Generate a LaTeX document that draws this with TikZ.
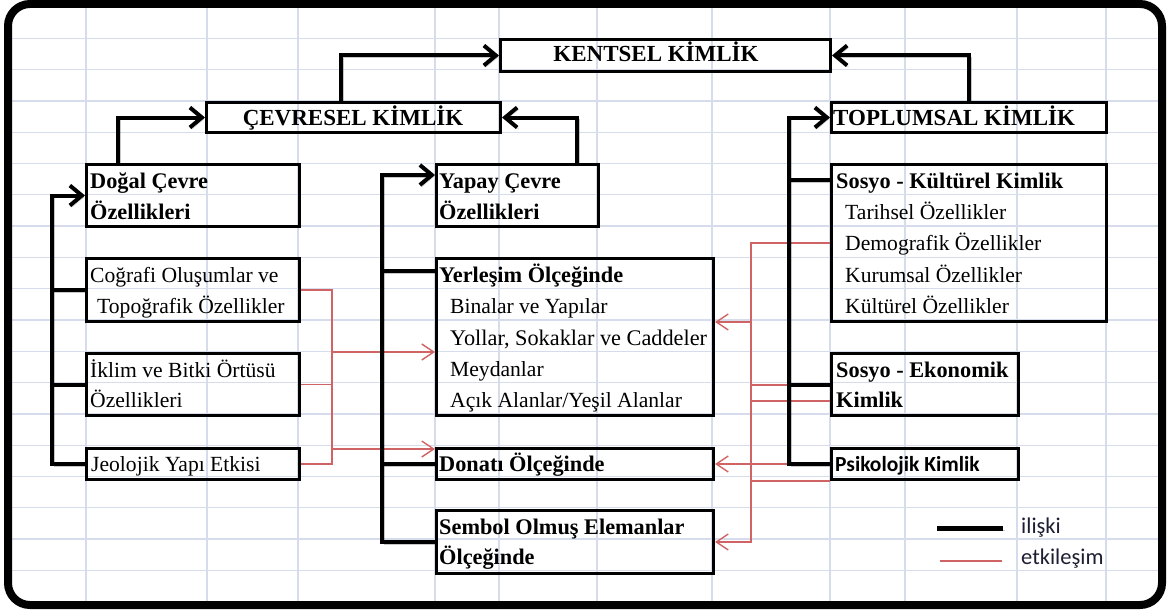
\documentclass[tikz,border=0pt]{standalone}
\usepackage{fontspec}
\setmainfont{Liberation Serif}
\newfontfamily\calfont{Carlito}
\usetikzlibrary{arrows.meta,calc}
\definecolor{gridc}{RGB}{214,220,236}
\definecolor{redc}{RGB}{208,100,100}
\definecolor{legc}{RGB}{30,30,50}
\begin{document}
\begin{tikzpicture}[x=1pt,y=-1pt,
  box/.style={draw=black, line width=3pt, rectangle, inner sep=0pt, anchor=north west},
  tr/.style={inner sep=0pt, anchor=base west, font=\fontsize{21.6}{24}\selectfont},
  tb/.style={inner sep=0pt, anchor=base west, font=\fontsize{22.3}{24}\selectfont\bfseries},
  ttl/.style={inner sep=0pt, anchor=base, font=\fontsize{23}{24}\selectfont\bfseries},
  legtext/.style={inner sep=0pt, anchor=base west, text=legc, font=\fontsize{22.5}{24}\selectfont\calfont},
  gridline/.style={draw=gridc, line width=1.3pt},
  shad/.style={preaction={draw=black, opacity=0.22, transform canvas={shift={(1.8pt,-1.8pt)}}}},
  rel/.style={draw=black, line width=4pt, line join=miter},
  relarr/.style={rel, -{Straight Barb[length=12pt,width=20pt]}},
  eff/.style={draw=redc, line width=1.4pt},
  effarr/.style={eff, -{Straight Barb[length=12pt,width=16pt]}},
]
\useasboundingbox (0,0) rectangle (1167,610);
\fill[white] (0,0) rectangle (1167,610);
% grid
\foreach \gx in {86,207,298,435,499,597,712,830,905,1017,1106}
  \draw[gridline] (\gx,4) -- (\gx,605);
\foreach \k in {1,...,18}
  \draw[gridline] (8,{7+31.3*\k}) -- (1162,{7+31.3*\k});

% boxes
\node[box, minimum width=330pt, minimum height=32pt] (kentsel) at (499,38) {};
\node[box, minimum width=294pt, minimum height=30pt] (cevresel) at (205,101) {};
\node[box, minimum width=275pt, minimum height=30pt] (toplumsal) at (830,101) {};
\node[box, minimum width=213pt, minimum height=62pt] (dogal) at (85,163) {};
\node[box, minimum width=162pt, minimum height=62pt] (yapay) at (435,163) {};
\node[box, minimum width=275pt, minimum height=157pt] (sosyokul) at (830,163) {};
\node[box, minimum width=213pt, minimum height=63pt] (cografi) at (85,257) {};
\node[box, minimum width=213pt, minimum height=62pt] (iklim) at (85,352) {};
\node[box, minimum width=213pt, minimum height=31pt] (jeolojik) at (85,447) {};
\node[box, minimum width=277pt, minimum height=157pt] (yerlesim) at (435,257) {};
\node[box, minimum width=277pt, minimum height=31pt] (donati) at (435,447) {};
\node[box, minimum width=277pt, minimum height=63pt] (sembol) at (435,509) {};
\node[box, minimum width=187pt, minimum height=62pt] (sosyoekon) at (830,352) {};
\node[box, minimum width=187pt, minimum height=31pt] (psiko) at (830,447) {};

% helper coordinates
\coordinate (lt) at (52,0);
\coordinate (mt) at (382,0);
\coordinate (rt) at (789,0);
\coordinate (lr) at (332,0);
\coordinate (rr) at (751,0);
\coordinate (yt) at ($(yapay.north west)+(0,12)$);
\coordinate (yl) at ($(yerlesim.north west)+(0,14)$);
\coordinate (sk) at ($(sosyokul.north west)+(0,17)$);
\coordinate (ya) at ($(yerlesim.north west)+(0,95)$);
\coordinate (da) at ($(donati.north west)+(0,2)$);
\coordinate (dm) at ($(sosyokul.north west)+(0,80)$);
\coordinate (yb) at ($(yerlesim.north east)+(0,65)$);
\coordinate (se1) at ($(sosyoekon.north west)+(0,33)$);
\coordinate (se2) at ($(sosyoekon.north west)+(0,49)$);

% red (etkilesim) connectors
\draw[eff] (cografi.east) -- (cografi.east -| lr) -- (jeolojik.east -| lr) -- (jeolojik.east);
\draw[eff] (iklim.east) -- (iklim.east -| lr);
\draw[effarr] (ya -| lr) -- (ya);
\draw[effarr] (da -| lr) -- (da);
\draw[effarr] (dm) -- (dm -| rr) -- (sembol.east -| rr) -- (sembol.east);
\draw[effarr] (yb -| rr) -- (yb);
\draw[eff] (se1) -- (se1 -| rr);
\draw[eff] (se2) -- (se2 -| rr);
\draw[effarr] (psiko.west) -- (donati.east);
\draw[eff] (psiko.south west) -- (psiko.south west -| rr);

% black (iliski) connectors
\draw[relarr, shad] ($(cevresel.north west)+(136,0)$) |- (kentsel.west);
\draw[relarr, shad] ($(toplumsal.north west)+(139,0)$) |- (kentsel.east);
\draw[relarr, shad] ($(dogal.north west)+(33,0)$) |- (cevresel.west);
\draw[relarr, shad] ($(yapay.north west)+(142,0)$) |- (cevresel.east);
\draw[relarr, shad] (jeolojik.west) -- (jeolojik.west -| lt) -- (lt |- dogal.west) -- (dogal.west);
\draw[rel, shad] (cografi.west) -- (cografi.west -| lt);
\draw[rel, shad] (iklim.west) -- (iklim.west -| lt);
\draw[relarr, shad] (sembol.west) -- (sembol.west -| mt) -- (mt |- yt) -- (yt);
\draw[rel, shad] (yl) -- (yl -| mt);
\draw[rel, shad] (donati.west) -- (donati.west -| mt);
\draw[relarr, shad] (psiko.west) -- (psiko.west -| rt) -- (rt |- toplumsal.west) -- (toplumsal.west);
\draw[rel, shad] (sk) -- (sk -| rt);
\draw[rel, shad] (sosyoekon.west) -- (sosyoekon.west -| rt);

% texts
\node[ttl] (t-kentsel) at (656,62) {KENTSEL KİMLİK};
\node[ttl] (t-cevresel) at (353,125) {ÇEVRESEL KİMLİK};
\node[ttl, anchor=base west] (t-toplumsal) at (833,125) {TOPLUMSAL KİMLİK};
\node[tb] (t-dogal1) at (90,188) {Doğal Çevre};
\node[tb] (t-dogal2) at (90,219) {Özellikleri};
\node[tb] (t-yapay1) at (439,188) {Yapay Çevre};
\node[tb] (t-yapay2) at (439,219) {Özellikleri};
\node[tb] (t-sk0) at (836,188) {Sosyo - Kültürel Kimlik};
\node[tr] (t-sk1) at (845,219) {Tarihsel Özellikler};
\node[tr] (t-sk2) at (845,250) {Demografik Özellikler};
\node[tr] (t-sk3) at (845,282) {Kurumsal Özellikler};
\node[tr] (t-sk4) at (845,313) {Kültürel Özellikler};
\node[tr] (t-cog1) at (90,282) {Coğrafi Oluşumlar ve};
\node[tr] (t-cog2) at (97,313) {Topoğrafik Özellikler};
\node[tr] (t-ikl1) at (90,377) {İklim ve Bitki Örtüsü};
\node[tr] (t-ikl2) at (90,407) {Özellikleri};
\node[tr] (t-jeo) at (91,471) {Jeolojik Yapı Etkisi};
\node[tb] (t-yer0) at (439,282) {Yerleşim Ölçeğinde};
\node[tr] (t-yer1) at (450,313) {Binalar ve Yapılar};
\node[tr, font=\fontsize{22.3}{24}\selectfont] (t-yer2) at (450,345) {Yollar, Sokaklar ve Caddeler};
\node[tr] (t-yer3) at (450,376) {Meydanlar};
\node[tr] (t-yer4) at (450,407) {Açık Alanlar/Yeşil Alanlar};
\node[tb] (t-don) at (439,471) {Donatı Ölçeğinde};
\node[tb] (t-sem1) at (439,534) {Sembol Olmuş Elemanlar};
\node[tb] (t-sem2) at (439,564) {Ölçeğinde};
\node[tb] (t-se1) at (836,377) {Sosyo - Ekonomik};
\node[tb] (t-se2) at (836,407) {Kimlik};
\node[inner sep=0pt, anchor=base west, font=\fontsize{21.5}{24}\selectfont\calfont\bfseries] (t-psi) at (835,471) {Psikolojik Kimlik};

% legend
\coordinate (l1a) at (937,528);
\coordinate (l1b) at (1003,528);
\coordinate (l2a) at (940,561);
\coordinate (l2b) at (1002,561);
\draw[rel, shad, line width=5pt] (l1a) -- (l1b);
\draw[eff] (l2a) -- (l2b);
\node[legtext] (leg1) at (1021,533) {ilişki};
\node[legtext] (leg2) at (1021,564) {etkileşim};

% frame
\draw[line width=8pt, rounded corners=22pt] (8,4) rectangle (1162,605);
\end{tikzpicture}
\end{document}
